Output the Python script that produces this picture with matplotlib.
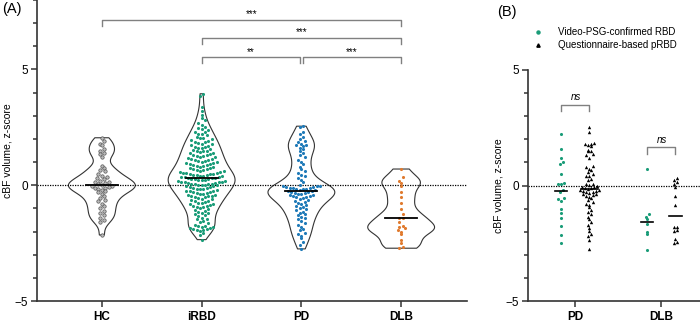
import numpy as np
import matplotlib
matplotlib.use('Agg')
import matplotlib.pyplot as plt
from matplotlib.lines import Line2D
from matplotlib.ticker import MultipleLocator

plt.rcParams['font.family'] = ['Liberation Sans', 'DejaVu Sans']

groups = ['HC', 'iRBD', 'PD', 'DLB']

hc = [2.05, 1.9, 1.8, 1.75, 1.55, 1.5, 1.4, 1.35, 1.2,
      0.85, 0.75, 0.65, 0.6, 0.5, 0.42, 0.35, 0.3, 0.25, 0.2, 0.15, 0.12,
      0.1, 0.05, 0.02, -0.02, -0.05, -0.08, -0.1, -0.12, -0.18, -0.2, -0.25,
      -0.3, -0.38, -0.45, -0.55, -0.62, -0.7, -0.8, -0.9, -1.0, -1.1, -1.2,
      -1.3, -1.4, -1.5, -1.6, -2.15]

irbd = [3.95, 3.85, 3.4, 3.2, 3.05,
        2.9, 2.8, 2.7, 2.6, 2.52,
        2.48, 2.42, 2.38, 2.32, 2.28, 2.22, 2.2, 2.15, 2.1, 2.05, 2.02,
        1.98, 1.95, 1.92, 1.88, 1.85, 1.82, 1.8, 1.77, 1.74, 1.7, 1.67, 1.65,
        1.62, 1.6, 1.57, 1.53, 1.5,
        1.48, 1.46, 1.43, 1.4, 1.38, 1.35, 1.32, 1.3, 1.28, 1.25, 1.22, 1.2,
        1.18, 1.15, 1.12, 1.1, 1.08, 1.05, 1.03, 1.01,
        0.99, 0.97, 0.95, 0.93, 0.91, 0.89, 0.87, 0.85, 0.82, 0.8, 0.78, 0.76,
        0.73, 0.71, 0.69, 0.67, 0.64, 0.62, 0.6, 0.58, 0.56, 0.54, 0.52, 0.51,
        0.5, 0.49, 0.47, 0.46, 0.45, 0.43, 0.42, 0.4, 0.39, 0.37, 0.36, 0.35,
        0.33, 0.32, 0.3, 0.29, 0.27, 0.26, 0.24, 0.22, 0.21, 0.19, 0.18, 0.16,
        0.15, 0.13, 0.12, 0.1, 0.09, 0.07, 0.06, 0.05, 0.04, 0.03, 0.02, 0.01,
        -0.01, -0.03, -0.05, -0.08, -0.09, -0.1, -0.13, -0.15, -0.16, -0.18,
        -0.21, -0.23, -0.25, -0.26, -0.3, -0.31, -0.33, -0.35, -0.38, -0.4,
        -0.41, -0.43, -0.45, -0.46, -0.48, -0.49,
        -0.51, -0.53, -0.58, -0.61, -0.63, -0.66, -0.68, -0.71, -0.76, -0.78,
        -0.81, -0.83, -0.86, -0.88, -0.91, -0.93, -0.96, -0.98,
        -1.02, -1.06, -1.1, -1.14, -1.18, -1.22, -1.26, -1.3, -1.35, -1.4,
        -1.44, -1.48,
        -1.55, -1.6, -1.65, -1.7, -1.74, -1.78, -1.8, -1.82, -1.84, -1.86,
        -1.88, -1.9, -1.92, -1.95, -1.98,
        -2.05, -2.15, -2.35]

pd_ = [2.55, 2.5, 2.3, 2.2, 2.1, 2.0,
       1.9, 1.85, 1.8, 1.75, 1.72, 1.68, 1.62, 1.58, 1.5,
       1.4, 1.3, 1.2, 1.1, 1.0,
       0.9, 0.8, 0.7, 0.6, 0.52,
       0.45, 0.38, 0.3, 0.22, 0.15, 0.02,
       -0.02, -0.04, -0.05, -0.07, -0.08, -0.1, -0.12, -0.14, -0.15, -0.17,
       -0.18, -0.2, -0.22, -0.24, -0.26, -0.28, -0.3, -0.32, -0.34, -0.36,
       -0.38, -0.41, -0.44, -0.46, -0.48, -0.49,
       -0.52, -0.56, -0.6, -0.64, -0.68, -0.72, -0.76, -0.8, -0.85, -0.89,
       -0.93, -0.97,
       -1.02, -1.08, -1.14, -1.2, -1.25, -1.3, -1.36, -1.42, -1.48,
       -1.55, -1.65, -1.72, -1.8, -1.88, -1.95,
       -2.05, -2.12, -2.2, -2.3, -2.45, -2.6, -2.75]

dlb = [0.7, 0.35, 0.2, 0.1, -0.02, -0.3, -0.52, -0.75, -1.02, -1.25, -1.42,
       -1.4, -1.6, -1.75, -1.8, -1.85, -1.92, -2.0, -2.1, -2.35, -2.5, -2.65,
       -2.72]

group_colors = ['#6e6e6e', '#1a9c78', '#1f7ab8', '#e07a2e']

# significance brackets: (left, right, height, label)
brackets_a = [(0, 3, 7.15, '***'), (1, 3, 6.37, '***'),
              (1, 1.985, 5.53, '**'), (2.015, 3, 5.53, '***')]

# ---- panel B data ----
sub_groups = ['PD', 'DLB']
psg_pd = [2.25, 1.6, 1.2, 1.0, 0.92, 0.48, 0.12, 0.05, 0.05, -0.2, -0.3,
          -0.55, -0.6, -0.65, -1.0, -1.18, -1.42, -1.75, -2.13, -2.47]
q_pd = [2.55, 2.3,
        1.85, 1.8, 1.78, 1.75, 1.7, 1.55, 1.5, 1.48, 1.35, 1.3, 1.2,
        0.85, 0.78, 0.7, 0.65, 0.6, 0.5, 0.42, 0.4, 0.3, 0.25,
        0.08, 0.05, 0.02, -0.02, -0.05, -0.08, -0.1, -0.12, -0.15, -0.18,
        -0.2, -0.22, -0.25, -0.28, -0.3, -0.32, -0.35, -0.38, -0.42, -0.45,
        -0.5, -0.55, -0.62, -0.7, -0.78, -0.85, -0.95, -1.05, -1.15, -1.25,
        -1.35, -1.45,
        -1.6, -1.7, -1.85, -1.95, -2.1, -2.2, -2.35, -2.75]
psg_dlb = [0.7, -1.22, -1.35, -1.45, -1.68, -2.02, -2.12, -2.78]
q_dlb = [0.32, 0.22, 0.15, 0.05, -0.05, -0.47, -0.84, -1.78, -1.8, -1.92,
         -1.95, -2.3, -2.45, -2.48]
brackets_b = [(0, 3.5, 'ns'), (1, 1.65, 'ns')]

green = '#1a9c78'
edge = '#333333'


def column_scatter(vals, bin_h, step):
    # prism-like column scatter: points in the same y-bin are spread sideways
    vals = np.asarray(vals, float)
    offs = np.zeros(len(vals))
    bins = np.floor(vals / bin_h).astype(int)
    for b in np.unique(bins):
        idx = np.where(bins == b)[0]
        idx = idx[np.argsort(vals[idx])]
        n = len(idx)
        slots = (np.arange(n) - (n - 1) / 2.0) * step
        # interleave so neighbouring values are not all on one side
        order = np.argsort(np.abs(slots), kind='stable')
        offs[idx] = slots[order][np.argsort(np.arange(n))]
    return offs


def style_axis(ax):
    for s in ['top', 'right']:
        ax.spines[s].set_visible(False)
    for s in ['left', 'bottom']:
        ax.spines[s].set_linewidth(1.2)
        ax.spines[s].set_color(edge)
    ax.yaxis.set_major_locator(MultipleLocator(5))
    ax.yaxis.set_minor_locator(MultipleLocator(1))
    ax.tick_params(axis='y', which='major', length=4.5, width=1.1,
                   color=edge, labelsize=8.5, pad=2)
    ax.tick_params(axis='y', which='minor', length=3, width=1.1, color=edge)
    ax.tick_params(axis='x', length=4.5, width=1.1, color=edge, pad=3)
    ax.set_ylabel('cBF volume, z-score', fontsize=7.5, labelpad=1.5)


fig = plt.figure(figsize=(7, 3.23), dpi=100)

# ---------------- panel A ----------------
axA = fig.add_axes([37 / 700, 22 / 323, 430 / 700, 301 / 323])
axA.set_xlim(-0.65, 3.66)
axA.set_ylim(-5, 8)
data_a = [hc, irbd, pd_, dlb]
pos = np.arange(len(groups))

vp = axA.violinplot(data_a, positions=pos, widths=0.67, showextrema=False,
                    bw_method=0.25)
for b in vp['bodies']:
    b.set_facecolor('none')
    b.set_edgecolor(edge)
    b.set_linewidth(0.8)
    b.set_alpha(1)

axA.axhline(0, color='black', lw=0.9, ls=(0, (1, 1)), zorder=1)

for i, vals in enumerate(data_a):
    xo = column_scatter(vals, 0.2, 0.034)
    if i == 0:
        axA.scatter(pos[i] + xo, vals, s=6, facecolor='#bbbbbb',
                    edgecolor='#555555', linewidths=0.5, zorder=3)
    else:
        axA.scatter(pos[i] + xo, vals, s=5, color=group_colors[i],
                    linewidths=0, zorder=3)
    m = np.median(vals)
    axA.plot([pos[i] - 0.16, pos[i] + 0.16], [m, m], color='black', lw=1.3,
             zorder=4)

for x1, x2, h, lab in brackets_a:
    axA.plot([x1, x1, x2, x2], [h - 0.27, h, h, h - 0.27], color='#808080',
             lw=1.0, clip_on=False)
    axA.text((x1 + x2) / 2, h + 0.02, lab, ha='center', va='bottom',
             fontsize=7)

axA.set_xticks(pos)
axA.set_xticklabels(groups, fontsize=8.5, fontweight='bold')
style_axis(axA)

# ---------------- panel B ----------------
axB = fig.add_axes([528 / 700, 22 / 323, 172 / 700, 231 / 323])
axB.set_xlim(-0.552, 1.448)
axB.set_ylim(-5, 5)
axB.axhline(0, color='black', lw=0.9, ls=(0, (1, 1)), zorder=1)

sets_b = [(0, psg_pd, q_pd), (1, psg_dlb, q_dlb)]
for c, psg, q in sets_b:
    xg = c - 0.163 + column_scatter(psg, 0.17, 0.035)
    xq = c + 0.163 + column_scatter(q, 0.17, 0.035)
    axB.scatter(xg, psg, s=5, color=green, linewidths=0, zorder=3)
    axB.scatter(xq, q, s=6, marker='^', color='black', linewidths=0, zorder=3)
    for xc, vals, hw in [(c - 0.163, psg, 0.07),
                         (c + 0.163, q, 0.1 if c == 0 else 0.07)]:
        m = np.median(vals)
        axB.plot([xc - hw, xc + hw], [m, m], color='black', lw=1.2, zorder=4)

for c, h, lab in brackets_b:
    axB.plot([c - 0.163, c - 0.163, c + 0.163, c + 0.163],
             [h - 0.27, h, h, h - 0.27], color='#808080', lw=1.0)
    axB.text(c, h + 0.12, lab, ha='center', va='bottom', fontsize=7,
             style='italic')

axB.set_xticks([0, 1])
axB.set_xticklabels(sub_groups, fontsize=8.5, fontweight='bold')
style_axis(axB)

# legend (manual, above panel B)
fig.add_artist(Line2D([538 / 700], [1 - 32 / 323], marker='o', ms=2.2,
                      color=green, lw=0, transform=fig.transFigure))
fig.add_artist(Line2D([538 / 700], [1 - 45 / 323], marker='^', ms=2.4,
                      color='black', lw=0, transform=fig.transFigure))
fig.text(558 / 700, 1 - 32 / 323, 'Video-PSG-confirmed RBD', fontsize=7,
         va='center')
fig.text(558 / 700, 1 - 45 / 323, 'Questionnaire-based pRBD', fontsize=7,
         va='center')

fig.text(2 / 700, 1 - 9 / 323, '(A)', fontsize=10.5, va='center')
fig.text(497 / 700, 1 - 12 / 323, '(B)', fontsize=10.5, va='center')

fig.savefig('out.png', dpi=100)
